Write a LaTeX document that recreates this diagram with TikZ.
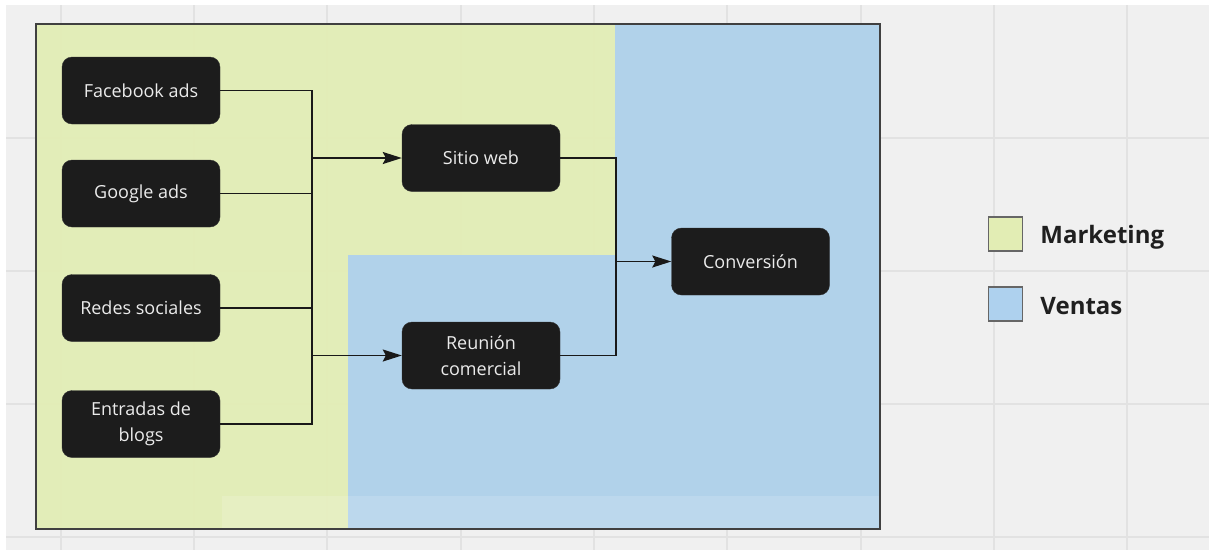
\documentclass[tikz,border=0pt]{standalone}
\usepackage{fontspec}
\setmainfont{Open Sans}
\usepackage{xcolor}
\usetikzlibrary{arrows.meta,positioning}
\definecolor{mkgreen}{HTML}{E2EDB4}
\definecolor{vtblue}{HTML}{AED1EE}
\definecolor{boxblack}{HTML}{1C1C1C}
\definecolor{canvas}{HTML}{F0F0F0}
\definecolor{gridgray}{HTML}{E2E2E2}

\begin{document}
\begin{tikzpicture}[x=1pt,y=-1pt,every text node part/.style={align=center},
  etapa/.style={draw=black!80,fill=boxblack,text=white!92!black,rounded corners=10pt,
    minimum width=158pt,minimum height=67pt,inner sep=0pt,font=\fontsize{18}{26}\selectfont},
  linea/.style={draw=black!90,line width=1.5pt},
  flecha/.style={linea,-{Stealth[length=19pt,width=12pt,inset=3pt]}},
  rejilla/.style={draw=gridgray,line width=2pt},
  marco/.style={draw=black!75,line width=1.5pt},
  muestra/.style={draw=black!60,line width=1.5pt,minimum size=34pt,inner sep=0pt},
  leyenda/.style={text=black!88,inner sep=0pt,font=\fontsize{24}{26}\selectfont\bfseries}]
\useasboundingbox (0,0) rectangle (1209,550);
% canvas and grid
\fill[white] (0,0) rectangle (1209,550);
\fill[canvas] (6,5) rectangle (1209,550);
\foreach \gx in {61,194,327,461,594,727,861,994,1127}
  \draw[rejilla] (\gx,5) -- (\gx,550);
\foreach \gy in {138,271,404,537}
  \draw[rejilla] (6,\gy) -- (1209,\gy);
% regions
\fill[mkgreen,fill opacity=0.93] (36,24) rectangle (880,529);
\fill[vtblue,fill opacity=0.93] (615,24) -- (880,24) -- (880,529) -- (348,529)
  -- (348,255) -- (615,255) -- cycle;
\fill[white,fill opacity=0.15] (222,496) rectangle (880,529);
\draw[marco] (36,24) rectangle (880,529);
% steps
\node[etapa] (fb) at (141,90.5) {Facebook ads};
\node[etapa] (gg) at (141,193.5) {Google ads};
\node[etapa] (rs) at (141,308) {Redes sociales};
\node[etapa] (blog) at (141,424) {Entradas de\\blogs};
\node[etapa] (web) at (481,158) {Sitio web};
\node[etapa] (reu) at (481,355.5) {Reunión\\comercial};
\node[etapa] (conv) at (750.5,261.5) {Conversión};
% connectors
\coordinate (bus) at (312,0);
\coordinate (bus2) at (616,0);
\draw[linea] (fb.east) -- (fb.east -| bus) -- (blog.east -| bus) -- (blog.east);
\draw[linea] (gg.east) -- (gg.east -| bus);
\draw[linea] (rs.east) -- (rs.east -| bus);
\draw[flecha] (web.west -| bus) -- (web.west);
\draw[flecha] (reu.west -| bus) -- (reu.west);
\draw[linea] (web.east) -- (web.east -| bus2) -- (reu.east -| bus2) -- (reu.east);
\draw[flecha] (conv.west -| bus2) -- (conv.west);
% legend
\node[muestra,fill=mkgreen] (lmk) at (1005.5,234) {};
\node[muestra,fill=vtblue] (lvt) at (1005.5,304) {};
\node[leyenda,right=17pt of lmk,yshift=-3pt] (tmk) {Marketing};
\node[leyenda,right=17pt of lvt,yshift=-2pt] (tvt) {Ventas};
\end{tikzpicture}
\end{document}
